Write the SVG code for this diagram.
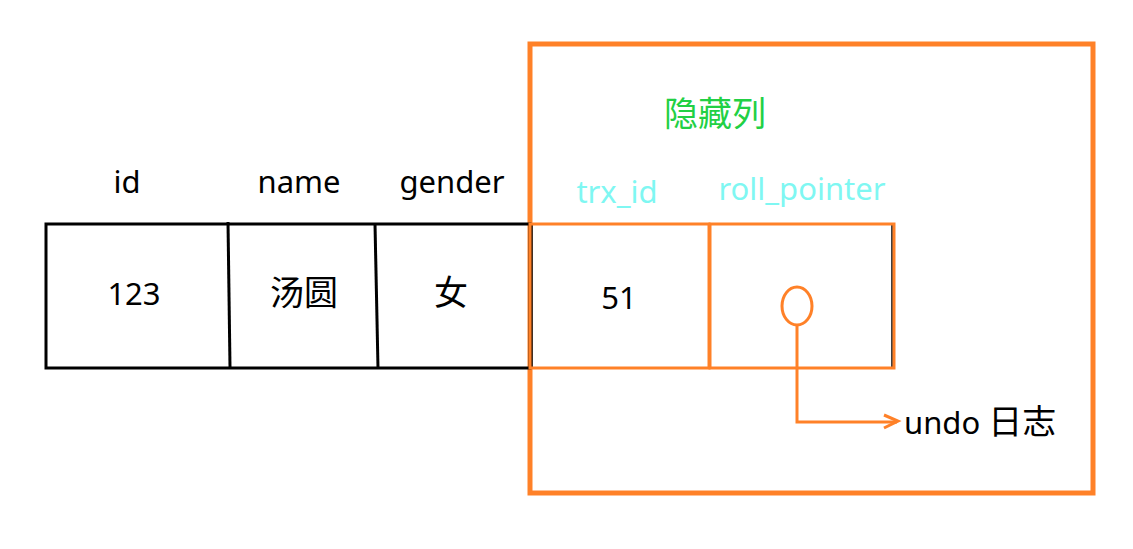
<svg xmlns="http://www.w3.org/2000/svg" width="1133" height="549" viewBox="0 0 1133 549">
<style>
.t{font-family:"Noto Sans","Noto Sans CJK SC",sans-serif;font-size:31px;fill:#000;text-anchor:middle}
.z{font-size:34px}
.c{fill:#7ff7f2}
.g{fill:#22d044;font-size:34px}
.o{fill:none;stroke:#ff8128;stroke-width:3}
.b{fill:none;stroke:#000;stroke-width:3}
</style>
<rect width="1133" height="549" fill="#fff"/>
<g id="hidden-box"><rect x="530" y="44" width="563" height="449" fill="none" stroke="#ff8128" stroke-width="5"/>
<text class="t g" x="715" y="126">隐藏列</text></g>
<g id="table">
<rect class="b" x="46" y="224" width="484" height="144"/>
<line class="b" x1="228" y1="222" x2="230" y2="367"/>
<line class="b" x1="375" y1="224" x2="378" y2="368"/>
<text class="t" x="127" y="193">id</text>
<text class="t" x="299" y="193">name</text>
<text class="t" x="452" y="193">gender</text>
<text class="t" x="134" y="305">123</text>
<text class="t z" x="304" y="305">汤圆</text>
<text class="t z" x="451" y="305">女</text>
</g>
<g id="trx_id">
<line x1="532" y1="225" x2="532" y2="368" stroke="#000" stroke-width="1.5"/>
<rect class="o" x="530" y="224" width="179" height="144"/>
<text class="t c" x="617" y="203">trx_id</text>
<text class="t" x="619" y="309">51</text>
</g>
<g id="roll_pointer">
<line x1="892" y1="225" x2="892" y2="368" stroke="#000" stroke-width="1.5"/>
<rect class="o" x="710" y="224" width="184" height="144"/>
<text class="t c" x="802" y="200">roll_pointer</text>
<ellipse class="o" cx="797" cy="306" rx="15" ry="19"/>
</g>
<g id="connectors">
<polyline class="o" points="797,325 797,422 897,422"/>
<polyline class="o" points="884,415 898,421 884,428"/>
</g>
<g id="undo"><text class="t" x="904" y="434" style="text-anchor:start">undo <tspan class="z">日志</tspan></text></g>
</svg>
